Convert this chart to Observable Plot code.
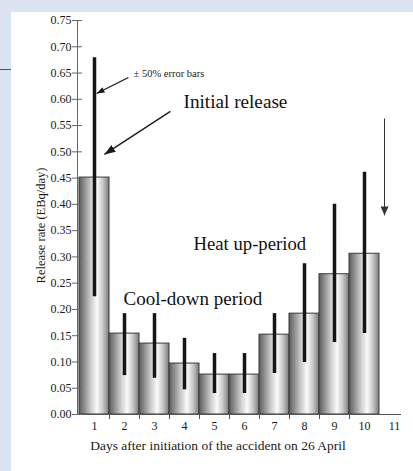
<!DOCTYPE html>
<html><head><meta charset="utf-8">
<script src="https://cdn.jsdelivr.net/npm/d3@7"></script>
<script src="https://cdn.jsdelivr.net/npm/@observablehq/plot@0.6"></script>
<style>
html,body{margin:0;padding:0;background:#dce3f0;width:413px;height:471px;overflow:hidden;}
#chart{position:absolute;left:11px;top:12px;width:402px;height:459px;background:#fff;}
#chart svg{display:block;background:#fff;}
#chart svg text{font-family:"Liberation Serif","DejaVu Serif",serif !important;font-variant:normal !important;}
#mark{position:absolute;left:0;top:69px;width:11px;border-top:1px solid #555;}
</style></head><body>
<div id="mark"></div>
<div id="chart"></div>
<script>
// ---- data ----
const days = [1, 2, 3, 4, 5, 6, 7, 8, 9, 10];
const releaseRate = [0.451, 0.154, 0.135, 0.097, 0.076, 0.076, 0.152, 0.192, 0.267, 0.306];
const errorLow  = [0.224, 0.074, 0.069, 0.047, 0.040, 0.040, 0.078, 0.099, 0.137, 0.154];
const errorHigh = [0.679, 0.192, 0.192, 0.145, 0.116, 0.116, 0.192, 0.287, 0.400, 0.461];
const xTickLabels = [1, 2, 3, 4, 5, 6, 7, 8, 9, 10, 11];
const yTickValues = [0, 0.05, 0.10, 0.15, 0.20, 0.25, 0.30, 0.35, 0.40, 0.45, 0.50, 0.55, 0.60, 0.65, 0.70, 0.75];
const yLabel = "Release rate (EBq/day)";
const xLabel = "Days after initiation of the accident on 26 April";

const table = days.map((d, i) => ({day: d, rate: releaseRate[i], lo: errorLow[i], hi: errorHigh[i]}));
const boundaries = xTickLabels.slice(1, -1).map(d => d - 0.5);

const serif = "Liberation Serif, DejaVu Serif, serif";

function defs() {
  const g = d3.create("svg:defs");
  const grad = g.append("linearGradient").attr("id", "barGrad").attr("x1", 0).attr("x2", 1).attr("y1", 0).attr("y2", 0);
  [[0, "#5c5c5c"], [0.12, "#7e7e7e"], [0.4, "#cdcdcd"], [0.6, "#fafafa"], [0.8, "#c6c6c6"], [1, "#7a7a7a"]]
    .forEach(([o, c]) => grad.append("stop").attr("offset", o).attr("stop-color", c));
  const mk = (id, w, h, color) => {
    g.append("marker").attr("id", id).attr("markerUnits", "userSpaceOnUse")
      .attr("markerWidth", w).attr("markerHeight", h).attr("refX", w).attr("refY", h / 2)
      .attr("orient", "auto").attr("viewBox", `0 0 ${w} ${h}`)
      .append("path").attr("d", `M0,0L${w},${h / 2}L0,${h}Z`).attr("fill", color);
  };
  mk("headSmall", 8, 6, "#1a1a1a");
  mk("headBig", 11, 8, "#1a1a1a");
  mk("headVert", 9, 8, "#333");
  return g.node();
}

const plot = Plot.plot({
  width: 402,
  height: 459,
  marginLeft: 66,
  marginRight: 13,
  marginTop: 8,
  marginBottom: 57,
  style: {fontFamily: serif, fontSize: "12px", color: "#1a1a1a", background: "#fff"},
  x: {type: "linear", domain: [0.5, 11.5], range: [68, 398]},
  y: {domain: [0, 0.75]},
  marks: [
    defs,
    Plot.rectY(table, {x1: d => d.day - 0.5, x2: d => d.day + 0.5, y: "rate", fill: "url(#barGrad)", stroke: "#3a3a3a", strokeWidth: 1}),
    Plot.ruleX(table, {x: "day", y1: "lo", y2: "hi", stroke: "#151515", strokeWidth: 3.5}),
    Plot.frame({anchor: "left", stroke: "#666"}),
    Plot.frame({anchor: "bottom", stroke: "#555"}),
    Plot.axisY({ticks: yTickValues, tickSize: 10, dx: 5, text: null, stroke: "#666", label: null}),
    Plot.axisY({ticks: yTickValues, tickSize: 0, tickPadding: 6, tickFormat: d3.format(".2f"), label: null, fontSize: 12, fontFamily: serif, fill: "#1a1a1a"}),
    Plot.axisX({ticks: boundaries, tickSize: 5, text: null, stroke: "#555", label: null}),
    Plot.axisX({ticks: xTickLabels, tickSize: 0, tickPadding: 7, tickFormat: d => String(d), label: null, fontSize: 12, fontFamily: serif, fill: "#1a1a1a"}),
    Plot.text([yLabel], {frameAnchor: "left", textAnchor: "middle", lineAnchor: "middle", text: d => d, rotate: -90, dx: -37, dy: 8, fontSize: 12.5, fontFamily: serif, fill: "#1a1a1a"}),
    Plot.text([xLabel], {frameAnchor: "bottom", textAnchor: "middle", lineAnchor: "middle", text: d => d, dx: -21, dy: 31, fontSize: 13.5, fontFamily: serif, fill: "#1a1a1a"}),
    // annotations
    Plot.link([0], {x1: 2.13, y1: 0.6415, x2: 1.07, y2: 0.611, stroke: "#1a1a1a", strokeWidth: 1.3}),
    Plot.link([0], {x1: 3.53, y1: 0.577, x2: 1.33, y2: 0.495, stroke: "#1a1a1a", strokeWidth: 1.4}),
    Plot.link([0], {x1: 10.667, y1: 0.5635, x2: 10.667, y2: 0.379, stroke: "#333", strokeWidth: 1}),
    Plot.text(["± 50% error bars"], {x: 2.3, y: 0.649, text: d => d, textAnchor: "start", fontSize: 10.5, fontFamily: serif, fill: "#1a1a1a"}),
    Plot.text(["Initial release"], {x: 3.967, y: 0.595, text: d => d, textAnchor: "start", fontSize: 19.2, fontFamily: serif, fill: "#111"}),
    Plot.text(["Heat up-period"], {x: 4.3, y: 0.3236, text: d => d, textAnchor: "start", fontSize: 18.7, fontFamily: serif, fill: "#111"}),
    Plot.text(["Cool-down period"], {x: 1.967, y: 0.2204, text: d => d, textAnchor: "start", fontSize: 19, fontFamily: serif, fill: "#111"})
  ]
});

const links = d3.select(plot).selectAll('g[aria-label="link"]').nodes();
const heads = ["headSmall", "headBig", "headVert"];
links.forEach((g, i) => d3.select(g).selectAll("path").attr("marker-end", `url(#${heads[i]})`));

document.getElementById("chart").appendChild(plot);
</script>
</body></html>
